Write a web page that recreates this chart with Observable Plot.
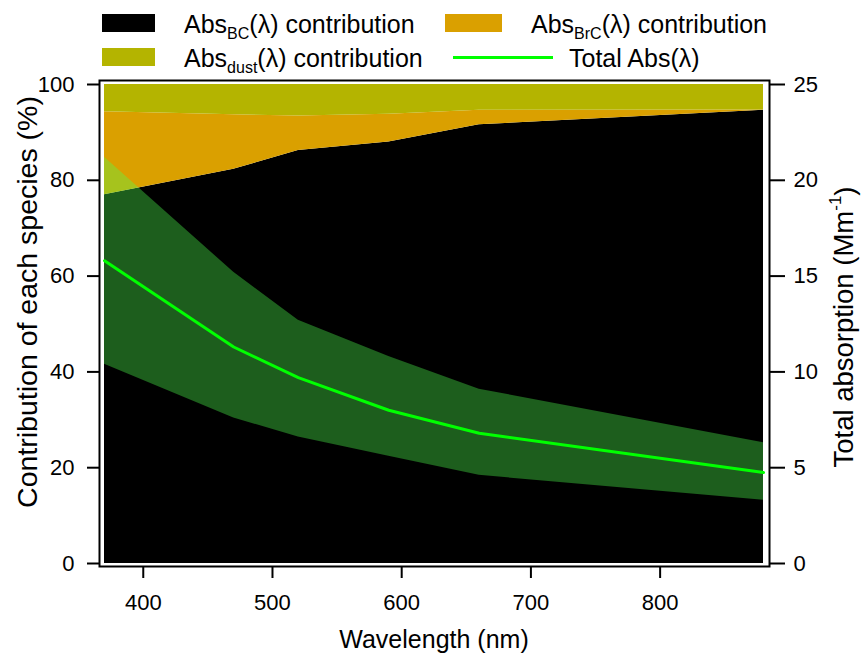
<!DOCTYPE html>
<html><head><meta charset="utf-8">
<script src="https://cdn.jsdelivr.net/npm/d3@7"></script>
<script src="https://cdn.jsdelivr.net/npm/@observablehq/plot@0.6"></script>
<style>
body{margin:0;background:#fff;font-family:"Liberation Sans",Arial,sans-serif;}
#wrap{position:relative;width:863px;height:659px;overflow:hidden;}
.leg{position:absolute;font-size:25px;line-height:24px;white-space:nowrap;color:#000;}
.sw{position:absolute;}
.leg sub{font-size:16px;line-height:0;vertical-align:-6px;}
</style></head><body>
<div id="wrap"></div>
<script>
// Data
const wavelengths   = [370, 470, 520, 590, 660, 880];
const bcPct         = [77.0, 82.3, 86.2, 88.0, 91.6, 94.6];
const brcPct        = [17.3, 11.4, 7.2, 5.8, 3.0, 0.1];
const dustPct       = [5.7, 6.3, 6.6, 6.2, 5.4, 5.3];
const totalAbs      = [15.8, 11.3, 9.7, 8.0, 6.8, 4.75];
const totalAbsUpper = [21.2, 15.2, 12.7, 10.8, 9.1, 6.3];
const totalAbsLower = [10.4, 7.6, 6.6, 5.6, 4.6, 3.3];
const leftTicks  = [0, 20, 40, 60, 80, 100];
const rightTicks = [0, 5, 10, 15, 20, 25];
const xTicks     = [400, 500, 600, 700, 800];
const colors = {bc: "#000000", brc: "#daa000", dust: "#b4b400", band: "rgb(80,255,80)", line: "#00ff00"};

// right axis (0–25 Mm-1) mapped onto the left (0–100 %) scale
const k = 100 / 25;

const rows = wavelengths.map((w, i) => ({
  w,
  bcTop: bcPct[i],
  brcTop: bcPct[i] + brcPct[i],
  dustTop: bcPct[i] + brcPct[i] + dustPct[i],
  total: totalAbs[i] * k,
  upper: totalAbsUpper[i] * k,
  lower: totalAbsLower[i] * k
}));

const font = '"Liberation Sans", Arial, sans-serif';

const chart = Plot.plot({
  width: 863,
  height: 659,
  marginLeft: 104,
  marginRight: 100,
  marginTop: 84,
  marginBottom: 96,
  style: {fontFamily: font, fontSize: "22px", color: "black", background: "transparent"},
  x: {domain: [370, 880]},
  y: {domain: [0, 100]},
  marks: [
    Plot.areaY(rows, {x: "w", y1: 0, y2: "bcTop", fill: colors.bc}),
    Plot.areaY(rows, {x: "w", y1: "bcTop", y2: "brcTop", fill: colors.brc}),
    Plot.areaY(rows, {x: "w", y1: "brcTop", y2: 100, fill: colors.dust}),
    Plot.areaY(rows, {x: "w", y1: "lower", y2: "upper", fill: colors.band, fillOpacity: 0.37}),
    Plot.line(rows, {x: "w", y: "total", stroke: colors.line, strokeWidth: 3}),
    Plot.frame({stroke: "black", strokeWidth: 2, insetLeft: -5, insetRight: -6, insetTop: -4, insetBottom: -3}),
    Plot.axisY({anchor: "left", ticks: leftTicks, tickSize: 12, tickPadding: 13, dx: -5, strokeWidth: 2, fontSize: 22, label: null}),
    Plot.axisY({anchor: "right", ticks: rightTicks.map(v => v * k), tickFormat: d => d / k, tickSize: 15, tickPadding: 9, dx: 6, strokeWidth: 2, fontSize: 22, label: null}),
    Plot.axisX({anchor: "bottom", ticks: xTicks, tickSize: 12, tickPadding: 16, dy: 3, strokeWidth: 2, fontSize: 22, label: null}),
    Plot.text(["Contribution of each species (%)"], {text: d => d, frameAnchor: "left", textAnchor: "middle", dx: -77, dy: -22, rotate: -90, fontSize: 28.5}),
    Plot.text(["Total absorption (Mm-1)"], {text: d => d, frameAnchor: "right", textAnchor: "middle", dx: 81, dy: 3, rotate: -90, fontSize: 27.5}),
    Plot.text(["Wavelength (nm)"], {text: d => d, frameAnchor: "bottom", textAnchor: "middle", dy: 84, fontSize: 25})
  ]
});

const wrap = document.getElementById("wrap");
chart.style.position = "absolute";
chart.style.left = "0px";
chart.style.top = "0px";
wrap.appendChild(chart);

// superscript on the right-axis title
d3.select(chart).selectAll("text").filter(function() { return this.textContent === "Total absorption (Mm-1)"; })
  .each(function() {
    const t = d3.select(this);
    t.text("");
    t.append("tspan").text("Total absorption (Mm");
    t.append("tspan").attr("dy", "-0.7em").attr("font-size", "17px").text("-1");
    t.append("tspan").attr("dy", "0.45em").text(")");
  });

// legend (HTML above the plot area)
const legendItems = [
  {type: "box", color: colors.bc,   sx: 102, sw: 53, cy: 23, tx: 184, html: "Abs<sub>BC</sub>(λ) contribution"},
  {type: "box", color: colors.brc,  sx: 445, sw: 57, cy: 23, tx: 531, html: "Abs<sub>BrC</sub>(λ) contribution"},
  {type: "box", color: colors.dust, sx: 102, sw: 53, cy: 57, tx: 184, html: "Abs<sub>dust</sub>(λ) contribution"},
  {type: "line", color: colors.line, sx: 453, sw: 100, cy: 57, tx: 569, html: "Total Abs(λ)"}
];
for (const it of legendItems) {
  const s = document.createElement("div");
  s.className = "sw";
  s.style.left = it.sx + "px";
  s.style.width = it.sw + "px";
  s.style.background = it.color;
  if (it.type === "box") { s.style.top = (it.cy - 9) + "px"; s.style.height = "18px"; }
  else { s.style.top = (it.cy - 1.5) + "px"; s.style.height = "3px"; }
  wrap.appendChild(s);
  const t = document.createElement("div");
  t.className = "leg";
  t.style.left = it.tx + "px";
  t.style.top = (it.cy - 11) + "px";
  t.innerHTML = it.html;
  wrap.appendChild(t);
}
</script>
</body></html>
